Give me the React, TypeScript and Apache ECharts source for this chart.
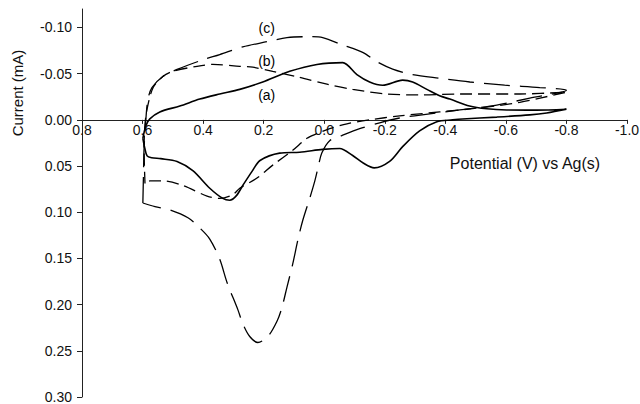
import React, { useEffect, useRef } from "react";
import * as echarts from "echarts";

// Curve (a) – solid
const aPotential = [0.599, 0.589, 0.576, 0.543, 0.477, 0.411, 0.345, 0.279, 0.203, 0.114, 0.024, -0.061, -0.108, -0.150, -0.193, -0.259, -0.292, -0.339, -0.381, -0.415, -0.480, -0.537, -0.603, -0.700, -0.800,
  -0.735, -0.679, -0.570, -0.457, -0.424, -0.372, -0.315, -0.259, -0.216, -0.165, -0.130, -0.094, -0.051, 0.005, 0.081, 0.147, 0.212, 0.239, 0.269, 0.290, 0.312, 0.335, 0.378, 0.434, 0.486, 0.540, 0.570, 0.585, 0.593, 0.599];
const aCurrent = [0.020, 0.0064, -0.001, -0.0086, -0.015, -0.0225, -0.028, -0.033, -0.041, -0.0525, -0.060, -0.062, -0.049, -0.041, -0.0375, -0.043, -0.041, -0.033, -0.026, -0.0225, -0.015, -0.012, -0.0107, -0.0105, -0.0115,
  -0.0075, -0.0054, -0.003, -0.001, 0.000, 0.002, 0.012, 0.029, 0.045, 0.052, 0.047, 0.0386, 0.031, 0.032, 0.035, 0.036, 0.044, 0.056, 0.071, 0.082, 0.087, 0.085, 0.074, 0.055, 0.045, 0.042, 0.041, 0.039, 0.030, 0.020];

// Curve (b) – short dashes
const bPotential = [0.592, 0.595, 0.592, 0.585, 0.565, 0.533, 0.500, 0.420, 0.368, 0.279, 0.236, 0.170, 0.081, -0.009, -0.094, -0.207, -0.315, -0.448, -0.646, -0.800,
  -0.646, -0.513, -0.381, -0.249, -0.150, -0.075, -0.018, 0.024, 0.057, 0.104, 0.170, 0.222, 0.279, 0.302, 0.345, 0.387, 0.467, 0.533, 0.575, 0.592];
const bCurrent = [0.069, 0.030, 0.005, -0.012, -0.035, -0.047, -0.0525, -0.058, -0.060, -0.058, -0.057, -0.0525, -0.046, -0.0386, -0.033, -0.028, -0.027, -0.028, -0.028, -0.030,
  -0.019, -0.013, -0.0086, -0.0043, 0.000, 0.0043, 0.0096, 0.015, 0.020, 0.033, 0.049, 0.063, 0.074, 0.081, 0.085, 0.0825, 0.071, 0.066, 0.066, 0.069];

// Curve (c) – long dashes
const cPotential = [0.599, 0.597, 0.595, 0.589, 0.582, 0.569, 0.533, 0.486, 0.401, 0.345, 0.269, 0.189, 0.123, 0.048, 0.005, -0.061, -0.127, -0.174, -0.226, -0.292, -0.381, -0.481, -0.596, -0.712, -0.800,
  -0.679, -0.570, -0.448, -0.348, -0.249, -0.183, -0.117, -0.058, -0.018, 0.008, 0.021, 0.031, 0.048, 0.071, 0.087, 0.104, 0.123, 0.140, 0.156, 0.186, 0.219, 0.246, 0.269, 0.285, 0.321, 0.345, 0.378, 0.411, 0.450, 0.510, 0.559, 0.599];
const cCurrent = [0.090, 0.060, 0.031, -0.001, -0.0225, -0.035, -0.047, -0.0546, -0.065, -0.0707, -0.079, -0.0846, -0.089, -0.090, -0.089, -0.081, -0.073, -0.063, -0.055, -0.049, -0.045, -0.041, -0.0375, -0.035, -0.032,
  -0.0236, -0.016, -0.0107, -0.0064, -0.002, 0.0032, 0.0096, 0.017, 0.0225, 0.036, 0.0525, 0.066, 0.085, 0.109, 0.130, 0.156, 0.181, 0.2035, 0.218, 0.2345, 0.241, 0.2345, 0.2206, 0.2057, 0.176, 0.151, 0.129, 0.117, 0.106, 0.0975, 0.094, 0.090];

const xTicks = [0.8, 0.6, 0.4, 0.2, 0.0, -0.2, -0.4, -0.6, -0.8, -1.0];
const yTicks = [-0.10, -0.05, 0.0, 0.05, 0.10, 0.15, 0.20, 0.25, 0.30];
const yMin = -0.12;
const yMax = 0.3;
const curveLabels = ["(a)", "(b)", "(c)"];
const labelPotential = 0.19;
const labelCurrents = [-0.027, -0.064, -0.099];

const FONT = "'Liberation Sans', Arial, Helvetica, sans-serif";
const GRID = { left: 82, right: 13, top: 9, bottom: 7 };
const H = 404;

const pairs = (xs: number[], ys: number[]) => xs.map((x, i) => [x, ys[i]]);
const fmt = (v: number, d: number) => (Math.abs(v) < 1e-9 ? 0 : v).toFixed(d);

export default function App() {
  const ref = useRef<HTMLDivElement>(null);
  useEffect(() => {
    if (!ref.current) return;
    const chart = echarts.init(ref.current, null, { renderer: "svg" });
    const gridHeight = H - GRID.top - GRID.bottom;
    // move the bottom x axis up to the zero-current line (inverse y axis: max at bottom)
    const zeroOffset = -gridHeight * (yMax - 0) / (yMax - yMin);
    const lineBase = { type: "line", showSymbol: false, symbol: "none", smooth: 0.3, z: 3 };
    chart.setOption({
      animation: false,
      backgroundColor: "#fff",
      textStyle: { fontFamily: FONT },
      grid: { ...GRID, outerBoundsMode: "none", containLabel: false },
      xAxis: {
        type: "value",
        inverse: true,
        position: "bottom",
        offset: zeroOffset,
        min: -1.0,
        max: 0.8,
        interval: 0.2,
        axisLine: { onZero: false, lineStyle: { color: "#222", width: 1 } },
        axisTick: { show: true, length: 4, lineStyle: { color: "#222" } },
        axisLabel: {
          margin: 3,
          color: "#111",
          fontSize: 14,
          fontFamily: FONT,
          customValues: xTicks,
          formatter: (v: number) => fmt(v, 1),
        },
        splitLine: { show: false },
      },
      yAxis: {
        type: "value",
        inverse: true,
        min: yMin,
        max: yMax,
        axisLine: { show: true, onZero: false, lineStyle: { color: "#222", width: 1 } },
        axisTick: { show: true, length: 5, customValues: yTicks, lineStyle: { color: "#222" } },
        axisLabel: {
          margin: 10,
          color: "#111",
          fontSize: 14,
          fontFamily: FONT,
          customValues: yTicks,
          formatter: (v: number) => fmt(v, 2),
        },
        splitLine: { show: false },
      },
      series: [
        { ...lineBase, name: "a", data: pairs(aPotential, aCurrent), lineStyle: { color: "#000", width: 1.6, type: "solid" } },
        { ...lineBase, name: "b", data: pairs(bPotential, bCurrent), lineStyle: { color: "#000", width: 1.3, type: [12, 6] } },
        { ...lineBase, name: "c", data: pairs(cPotential, cCurrent), lineStyle: { color: "#000", width: 1.3, type: [26, 10] } },
        {
          type: "scatter",
          symbolSize: 0,
          silent: true,
          data: curveLabels.map((t, i) => ({ value: [labelPotential, labelCurrents[i]], name: t })),
          label: {
            show: true,
            position: "inside",
            formatter: (p: any) => p.name,
            color: "#000",
            opacity: 1,
            fontSize: 14,
            fontFamily: FONT,
          },
          itemStyle: { opacity: 1 },
          z: 4,
        },
      ],
      graphic: [
        {
          type: "text",
          x: 17,
          y: 93,
          rotation: Math.PI / 2,
          style: {
            text: "Current (mA)",
            fill: "#111",
            font: `15px ${FONT}`,
            textAlign: "center",
            textVerticalAlign: "middle",
          },
        },
        {
          type: "text",
          x: 525,
          y: 163,
          style: {
            text: "Potential (V) vs Ag(s)",
            fill: "#111",
            font: `16px ${FONT}`,
            textAlign: "center",
            textVerticalAlign: "middle",
          },
        },
      ],
    });
    return () => chart.dispose();
  }, []);
  return <div ref={ref} style={{ position: "fixed", left: 0, top: 0, width: 640, height: 404 }} />;
}
